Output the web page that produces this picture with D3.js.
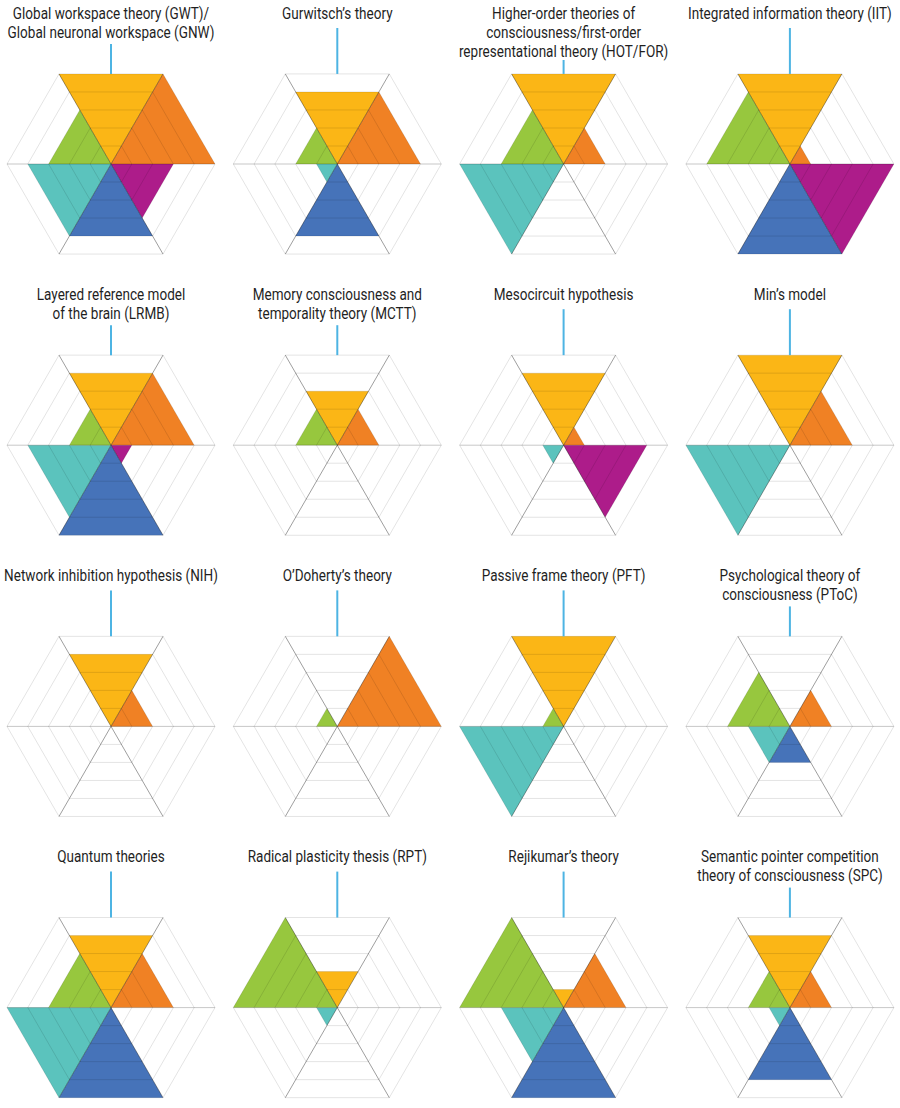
<!DOCTYPE html>
<html>
<head>
<meta charset="utf-8">
<script src="https://cdn.jsdelivr.net/npm/d3@7/dist/d3.min.js"></script>
<style>
  body { margin: 0; background: #fff; }
  svg { display: block; }
</style>
</head>
<body>
<svg id="chart" width="900" height="1108"></svg>
<script>
// theory names, one entry per small hexagon (lines as printed)
const theories = [
  ["Global workspace theory (GWT)/", "Global neuronal workspace (GNW)"],
  ["Gurwitsch\u2019s theory"],
  ["Higher-order theories of", "consciousness/first-order", "representational theory (HOT/FOR)"],
  ["Integrated information theory (IIT)"],
  ["Layered reference model", "of the brain (LRMB)"],
  ["Memory consciousness and", "temporality theory (MCTT)"],
  ["Mesocircuit hypothesis"],
  ["Min\u2019s model"],
  ["Network inhibition hypothesis (NIH)"],
  ["O\u2019Doherty\u2019s theory"],
  ["Passive frame theory (PFT)"],
  ["Psychological theory of", "consciousness (PToC)"],
  ["Quantum theories"],
  ["Radical plasticity thesis (RPT)"],
  ["Rejikumar\u2019s theory"],
  ["Semantic pointer competition", "theory of consciousness (SPC)"]
];

// six sectors, clockwise from the top
const sectors = ["top", "upperRight", "lowerRight", "bottom", "lowerLeft", "upperLeft"];

// scores 0-5 per theory, in the order of `theories`
const topValues        = [5, 4, 5, 5, 4, 3, 4, 5, 4, 0, 5, 0, 4, 2, 1, 4];
const upperRightValues = [5, 4, 2, 1, 4, 2, 1, 3, 2, 5, 0, 2, 3, 0, 3, 2];
const lowerRightValues = [3, 0, 0, 5, 1, 0, 4, 0, 0, 0, 0, 0, 0, 0, 0, 0];
const bottomValues     = [4, 4, 0, 5, 5, 0, 0, 0, 0, 0, 0, 2, 5, 0, 5, 4];
const lowerLeftValues  = [4, 1, 5, 0, 4, 0, 1, 5, 0, 0, 5, 2, 5, 1, 3, 1];
const upperLeftValues  = [3, 2, 3, 4, 2, 2, 0, 0, 0, 1, 1, 3, 3, 5, 5, 2];

const ticks = [1, 2, 3, 4, 5];

const seriesValues = [topValues, upperRightValues, lowerRightValues, bottomValues, lowerLeftValues, upperLeftValues];
const COLORS = ["#fbb616", "#f08124", "#ad1c8a", "#4673b9", "#5bc3bd", "#97c73e"];
// start angle (degrees, counter-clockwise from east) of each sector
const START_ANGLE = [60, 0, -60, -120, 180, 120];

const COLS = 4;
const COL_X0 = 111, COL_STEP = 226.3;
const ROW_Y0 = 0, ROW_STEP = 281.2;
const CENTER_DY = 164;
const R = 104;
const LINE_H = 19.2;
const FONT_SIZE = 17;

const svg = d3.select("#chart");

const r = d3.scaleLinear().domain([0, 5]).range([0, R]);
const pt = (deg, rad) => [rad * Math.cos(deg * Math.PI / 180), -rad * Math.sin(deg * Math.PI / 180)];
const line = d3.line();

// horizontal squeeze so Roboto looks like the condensed face of the original
const probe = svg.append("text")
  .style("font-family", "Roboto")
  .style("font-size", FONT_SIZE + "px")
  .text("Global neuronal workspace (GNW)");
const squeeze = 207 / probe.node().getComputedTextLength();
probe.remove();

theories.forEach((title, i) => {
  const col = i % COLS, row = Math.floor(i / COLS);
  const cx = COL_X0 + col * COL_STEP;
  const y0 = ROW_Y0 + row * ROW_STEP;
  const cy = y0 + CENTER_DY;
  const g = svg.append("g").attr("transform", `translate(${cx},${cy})`);

  // sector fills
  sectors.forEach((s, k) => {
    const v = seriesValues[k][i];
    if (!v) return;
    const a = START_ANGLE[k];
    g.append("path")
      .attr("class", "sector " + s)
      .attr("d", line([[0, 0], pt(a, r(v)), pt(a + 60, r(v))]) + "Z")
      .attr("fill", COLORS[k]);
  });

  // rings on top of the fills
  ticks.forEach(t => {
    const pts = d3.range(6).map(j => pt(j * 60, r(t)));
    g.append("path")
      .attr("d", line(pts) + "Z")
      .attr("fill", "none")
      .attr("stroke", "rgba(0,0,0,0.11)")
      .attr("stroke-width", 1);
  });

  // spokes
  d3.range(6).forEach(j => {
    const horiz = j % 3 === 0;
    g.append("line")
      .attr("x1", 0).attr("y1", 0)
      .attr("x2", pt(j * 60, R)[0]).attr("y2", pt(j * 60, R)[1])
      .attr("stroke", horiz ? "rgba(0,0,0,0.22)" : "rgba(0,0,0,0.38)")
      .attr("stroke-width", 1);
  });

  // leader from title down to the hexagon
  const lineStart = y0 + 28 + 16 * (title.length - 1);
  g.append("line")
    .attr("x1", 0).attr("x2", 0)
    .attr("y1", lineStart - cy)
    .attr("y2", -R * Math.sin(Math.PI / 3))
    .attr("stroke", "#4db4e3")
    .attr("stroke-width", 2);

  // title
  const tg = svg.append("g")
    .attr("transform", `translate(${cx},${y0 + 18.5}) scale(${squeeze},1)`);
  tg.selectAll("text")
    .data(title)
    .enter().append("text")
    .attr("x", 0)
    .attr("y", (d, j) => j * LINE_H)
    .attr("text-anchor", "middle")
    .style("font-family", "Roboto")
    .style("font-size", FONT_SIZE + "px")
    .style("fill", "#1f1f1f")
    .text(d => d);
});
</script>
</body>
</html>
